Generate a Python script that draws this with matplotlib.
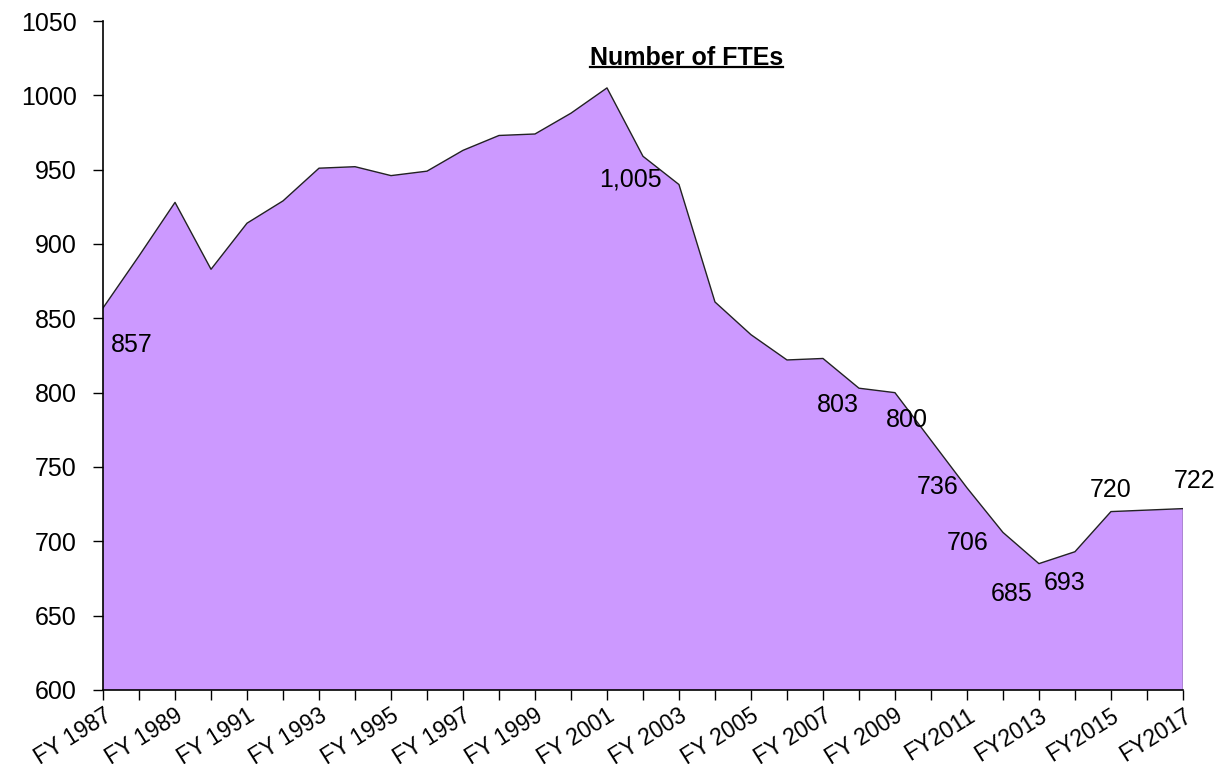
import matplotlib
matplotlib.use('Agg')
import matplotlib.pyplot as plt
import numpy as np

plt.rcParams['font.family'] = ['Liberation Sans', 'DejaVu Sans']

years = list(range(1987, 2018))
ftes = [857, 892, 928, 883, 914, 929, 951, 952, 946, 949,
        963, 973, 974, 988, 1005, 959, 940, 861, 839, 822,
        823, 803, 800, 768, 736, 706, 685, 693, 720, 721, 722]
tick_labels = ['FY 1987', 'FY 1989', 'FY 1991', 'FY 1993', 'FY 1995', 'FY 1997',
               'FY 1999', 'FY 2001', 'FY 2003', 'FY 2005', 'FY 2007', 'FY 2009',
               'FY2011', 'FY2013', 'FY2015', 'FY2017']

# labelled points: index -> offset of the label (pixels)
label_idx = [0, 14, 21, 22, 24, 25, 26, 27, 28, 30]
label_off = [(29, -37), (23, -92), (-21, -17), (12, -27), (-29, 1),
             (-35, -11), (-27, -30), (-10, -31), (0, 22), (12, 28)]

fig = plt.figure(figsize=(12.28, 7.75), dpi=100)
ax = fig.add_axes([0.0839, 0.1097, 0.8794, 0.8632])

x = np.arange(len(years))
ax.fill_between(x, ftes, 600, facecolor='#CC99FF', edgecolor='none')
ax.plot(x, ftes, color='#222222', lw=1.0)
ax.plot([x[-1], x[-1]], [600, ftes[-1]], color='#222222', lw=1.0)

for i, (dx, dy) in zip(label_idx, label_off):
    v = ftes[i]
    ax.annotate('{:,}'.format(v), xy=(x[i], v), xytext=(dx, dy),
                textcoords='offset pixels', ha='center', va='center',
                fontsize=18, color='black')

ax.set_xlim(0, len(years) - 1)
ax.set_ylim(600, 1050)
ax.set_yticks(np.arange(600, 1051, 50))
ax.set_xticks(x)
ax.set_xticklabels([tick_labels[i // 2] if i % 2 == 0 else '' for i in x],
                   rotation=32, ha='right', rotation_mode='anchor')
ax.tick_params(axis='both', length=7, width=1, direction='out')
ax.tick_params(axis='y', pad=12, labelsize=18)
ax.tick_params(axis='x', pad=3, labelsize=16.5)
for s in ['top', 'right']:
    ax.spines[s].set_visible(False)
for s in ['left', 'bottom']:
    ax.spines[s].set_linewidth(1.2)

title = ax.text(0.54, 0.963, 'Number of FTEs', transform=ax.transAxes,
                ha='center', va='top', fontsize=18, fontweight='bold')

# underline the title
fig.canvas.draw()
bb = title.get_window_extent().transformed(fig.transFigure.inverted())
ax.plot([bb.x0, bb.x1], [bb.y0 + 0.003, bb.y0 + 0.003], transform=fig.transFigure,
        color='black', lw=1.6, clip_on=False)

plt.savefig('out.png', dpi=100)
